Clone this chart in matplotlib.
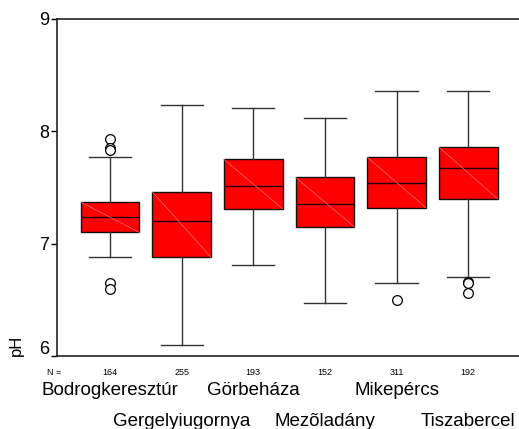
import numpy as np
import matplotlib.pyplot as plt
import matplotlib.transforms as mtransforms

plt.rcParams['font.family'] = ['Liberation Sans', 'DejaVu Sans']

# DATA
sites = ["Bodrogkeresztúr", "Gergelyiugornya", "Görbeháza",
         "Mezõladány", "Mikepércs", "Tiszabercel"]
counts = [164, 255, 193, 152, 311, 192]
q1 = [7.10, 6.88, 7.31, 7.15, 7.32, 7.40]
med = [7.24, 7.20, 7.51, 7.35, 7.54, 7.67]
q3 = [7.37, 7.46, 7.75, 7.59, 7.77, 7.86]
wlo = [6.88, 6.10, 6.81, 6.47, 6.65, 6.70]
whi = [7.77, 8.23, 8.21, 8.12, 8.36, 8.36]
fliers = [[7.93, 7.85, 7.83, 6.65, 6.60], [], [], [], [6.50], [6.66, 6.65, 6.56]]

pos = np.arange(1, len(sites) + 1)
stats = []
for i in range(len(sites)):
    stats.append(dict(med=med[i], q1=q1[i], q3=q3[i], whislo=wlo[i],
                      whishi=whi[i], fliers=fliers[i]))

fig = plt.figure(figsize=(5.19, 4.29), dpi=100)
ax = fig.add_axes([0.110, 0.170, 0.890, 0.786])

bw = 0.82
ax.bxp(stats, positions=pos, widths=bw, capwidths=0.59, patch_artist=True,
       boxprops=dict(facecolor='#ff0000', edgecolor='#111111', linewidth=1.0),
       medianprops=dict(color='#220000', linewidth=1.0),
       whiskerprops=dict(color='#333333', linewidth=1.0),
       capprops=dict(color='#333333', linewidth=1.0),
       flierprops=dict(marker='o', markerfacecolor='white', markeredgecolor='black',
                       markersize=7, markeredgewidth=0.9))

# faint diagonal inside each box
for i, p in enumerate(pos):
    ax.plot([p - bw / 2, p + bw / 2], [q3[i], q1[i]], color='#ff7070', lw=0.5, zorder=3)

ax.set_xlim(0.26, 6.71)
ax.set_ylim(6, 9)
ax.set_yticks([6, 7, 8, 9])
ax.set_yticklabels(['6', '7', '8', '9'], fontsize=13)
ax.set_xticks([])
ax.tick_params(axis='y', length=4, width=1, pad=2)
ax.spines['right'].set_visible(False)
for s in ['left', 'bottom', 'top']:
    ax.spines[s].set_linewidth(1.2)
    ax.spines[s].set_color('#222222')

# the lowest tick label sits a little higher in the original
lab6 = ax.get_yticklabels()[0]
lab6.set_transform(lab6.get_transform() +
                   mtransforms.ScaledTranslation(0, 6 / 72, fig.dpi_scale_trans))

# N row and staggered site labels
ax.annotate("N =", xy=(0, 0), xycoords='axes fraction', xytext=(-7, -12),
            textcoords='offset points', fontsize=6.5, ha='left', va='center')
for i, p in enumerate(pos):
    ax.annotate(str(counts[i]), xy=(p, 0), xycoords=('data', 'axes fraction'),
                xytext=(0, -12), textcoords='offset points',
                fontsize=6.5, ha='center', va='center')
    dy = -25 if i % 2 == 0 else -47
    ax.annotate(sites[i], xy=(p, 0), xycoords=('data', 'axes fraction'),
                xytext=(0, dy), textcoords='offset points',
                fontsize=13.5, ha='center', va='center')

fig.text(0.032, 0.17, "pH", rotation=90, fontsize=12, ha='center', va='bottom')

fig.savefig("out.png", dpi=100)
